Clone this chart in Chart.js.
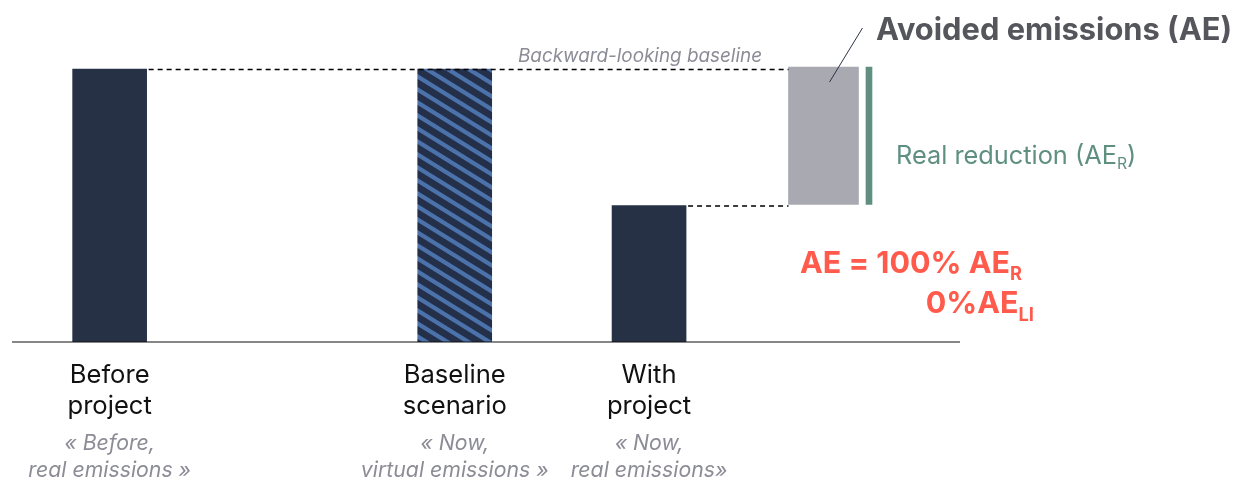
<!DOCTYPE html>
<html><head><meta charset="utf-8">
<script src="https://cdn.jsdelivr.net/npm/chart.js"></script>
<style>html,body{margin:0;padding:0;background:#fff;}canvas{display:block;}</style>
</head><body>
<canvas id="c" width="1246" height="482"></canvas>
<script>
// ---- data ----
const categories = [['Before', 'project'], ['Baseline', 'scenario'], ['With', 'project']];
const subtitles = [['« Before,', 'real emissions »'], ['« Now,', 'virtual emissions »'], ['« Now,', 'real emissions»']];
const xPositions = [1.03, 4.67, 6.72];
const emissions = [100, 100, 50];
const aePosition = 8.56;
const aeRange = [50.4, 100.7];
const realPosition = 9.04;
const realRange = [50.4, 100.7];

const FONT = 'Inter, "Noto Sans", sans-serif';
const NAVY = '#263145';

function hatch(ctx) {
  const w = 21, h = 13, cv = document.createElement('canvas');
  cv.width = w; cv.height = h;
  const g = cv.getContext('2d');
  g.fillStyle = '#24304a'; g.fillRect(0, 0, w, h);
  g.strokeStyle = '#4b72aa'; g.lineWidth = 4.2;
  for (let k = -2; k <= 2; k++) {
    g.beginPath(); g.moveTo(k * w - w, -h); g.lineTo(k * w + 2 * w, 2 * h); g.stroke();
  }
  return ctx.createPattern(cv, 'repeat');
}
const ctx0 = document.getElementById('c').getContext('2d');

function fit(ctx, text, pre, width) {
  ctx.font = pre + ' 100px ' + FONT;
  return (100 * width / ctx.measureText(text).width).toFixed(2);
}

function subText(ctx, parts, x, y, align) {
  let total = 0;
  parts.forEach(p => { ctx.font = p.font; p.w = ctx.measureText(p.t).width; total += p.w; });
  let cx = align === 'right' ? x - total : (align === 'center' ? x - total / 2 : x);
  ctx.textAlign = 'left';
  parts.forEach(p => { ctx.font = p.font; ctx.fillText(p.t, cx, y + (p.dy || 0)); cx += p.w; });
}

const annotate = {
  id: 'annotate',
  afterDatasetsDraw(chart) {
    const { ctx, scales: { x, y }, chartArea } = chart;
    ctx.save();
    ctx.textBaseline = 'alphabetic';
    // baseline axis
    ctx.strokeStyle = '#111'; ctx.lineWidth = 1.2;
    ctx.beginPath(); ctx.moveTo(chartArea.left, y.getPixelForValue(0)); ctx.lineTo(chartArea.right, y.getPixelForValue(0)); ctx.stroke();
    // dashed guides
    const half = 37, aeLeft = x.getPixelForValue(aePosition) - 35;
    ctx.setLineDash([5, 4]); ctx.lineWidth = 1.5; ctx.strokeStyle = '#000';
    ctx.beginPath();
    ctx.moveTo(x.getPixelForValue(xPositions[0]) + half + 2, y.getPixelForValue(emissions[0]) + 0.5);
    ctx.lineTo(aeLeft, y.getPixelForValue(emissions[0]) + 0.5);
    ctx.moveTo(x.getPixelForValue(xPositions[2]) + half + 2, y.getPixelForValue(emissions[2]) + 0.5);
    ctx.lineTo(aeLeft, y.getPixelForValue(emissions[2]) + 0.5);
    ctx.stroke();
    ctx.setLineDash([]);
    // backward-looking label
    ctx.fillStyle = '#8c8c96'; ctx.textAlign = 'center';
    ctx.font = 'italic ' + fit(ctx, 'Backward-looking baseline', 'italic', 244) + 'px ' + FONT;
    ctx.fillText('Backward-looking baseline', 640, 62);
    // category labels
    const catSize = fit(ctx, 'Baseline', '', 102);
    const subSize = fit(ctx, 'virtual emissions »', 'italic', 188);
    xPositions.forEach((v, i) => {
      const px = x.getPixelForValue(v);
      ctx.fillStyle = '#111'; ctx.font = catSize + 'px ' + FONT; ctx.textAlign = 'center';
      ctx.fillText(categories[i][0], px, 383);
      ctx.fillText(categories[i][1], px, 414);
      ctx.fillStyle = '#8c8c96'; ctx.font = 'italic ' + subSize + 'px ' + FONT;
      ctx.fillText(subtitles[i][0], px, 450);
      ctx.fillText(subtitles[i][1], px, 477);
    });
    // leader line
    const ax = x.getPixelForValue(aePosition);
    ctx.strokeStyle = '#2a3345'; ctx.lineWidth = 1;
    ctx.beginPath(); ctx.moveTo(ax + 6, y.getPixelForValue(aeRange[1]) + 15); ctx.lineTo(ax + 39, 28); ctx.stroke();
    // title
    ctx.fillStyle = '#55555c'; ctx.textAlign = 'left';
    ctx.font = 'bold ' + fit(ctx, 'Avoided emissions (AE)', 'bold', 356) + 'px ' + FONT;
    ctx.fillText('Avoided emissions (AE)', 876, 40);
    // real reduction
    ctx.fillStyle = '#5e8f80';
    const rr = fit(ctx, 'Real reduction (AE', '', 221);
    subText(ctx, [
      { t: 'Real reduction (AE', font: rr + 'px ' + FONT },
      { t: 'R', font: (rr * 0.62).toFixed(1) + 'px ' + FONT, dy: 5 },
      { t: ')', font: rr + 'px ' + FONT }
    ], 896, 164, 'left');
    // formula
    ctx.fillStyle = '#ff5a4c';
    const fs = fit(ctx, 'AE = 100% AE', 'bold', 210);
    subText(ctx, [
      { t: 'AE = 100% AE', font: 'bold ' + fs + 'px ' + FONT },
      { t: 'R', font: 'bold ' + (fs * 0.6).toFixed(1) + 'px ' + FONT, dy: 7 }
    ], 800, 273, 'left');
    subText(ctx, [
      { t: '0%AE', font: 'bold ' + fs + 'px ' + FONT },
      { t: 'LI', font: 'bold ' + (fs * 0.6).toFixed(1) + 'px ' + FONT, dy: 8 }
    ], 1034, 313, 'right');
    ctx.restore();
  }
};

const chart = new Chart(ctx0, {
  type: 'bar',
  data: {
    datasets: [
      {
        data: xPositions.map((v, i) => ({ x: v, y: emissions[i] })),
        backgroundColor: [NAVY, hatch(ctx0), NAVY],
        barThickness: 74, grouped: false
      },
      {
        data: [{ x: aePosition, y: aeRange }],
        backgroundColor: '#a9a9b2', barThickness: 70, grouped: false
      },
      {
        data: [{ x: realPosition, y: realRange }],
        backgroundColor: '#5e8f80', barThickness: 6, grouped: false
      }
    ]
  },
  options: {
    responsive: false, animation: false,
    layout: { padding: { left: 12, right: 286, top: 41.7, bottom: 140 } },
    plugins: { legend: { display: false }, tooltip: { enabled: false } },
    scales: {
      x: { type: 'linear', min: 0, max: 10, offset: false, display: false },
      y: { min: 0, max: 110, display: false }
    }
  },
  plugins: [annotate]
});
</script>
</body></html>
